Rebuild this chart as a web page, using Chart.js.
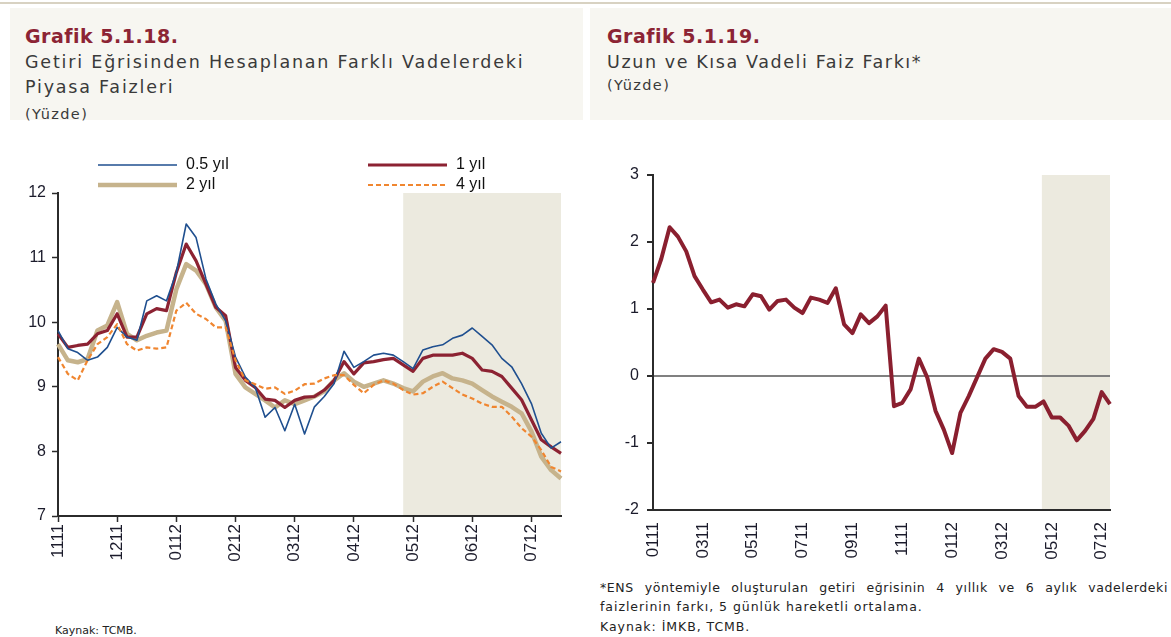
<!DOCTYPE html>
<html lang="tr">
<head>
<meta charset="utf-8">
<title>Grafik 5.1.18 / 5.1.19</title>
<script src="https://cdn.jsdelivr.net/npm/chart.js@4/dist/chart.umd.min.js"></script>
<style>
  html, body { margin: 0; padding: 0; background: #fff; }
  body { width: 1171px; height: 637px; position: relative; overflow: hidden; font-family: "DejaVu Sans", sans-serif; color: #333; }
  .topline { position: absolute; left: 0; top: 2px; width: 1171px; height: 2px; background: #d8d2c2; }
  .head { position: absolute; top: 8px; height: 112px; background: #f7f6f1; }
  .t { position: absolute; white-space: nowrap; }
  .title { font-size: 19px; font-weight: bold; color: #8c2434; line-height: 20px; letter-spacing: 0.5px; }
  .sub { font-size: 17.5px; letter-spacing: 1.8px; line-height: 22px; color: #3a3a3a; }
  .unit { font-size: 14.5px; letter-spacing: 1.4px; line-height: 18px; color: #3a3a3a; }
  .note { font-size: 12.5px; letter-spacing: 0.95px; line-height: 16px; color: #222; }
  canvas { position: absolute; }
</style>
</head>
<body>
<div class="topline"></div>
<div class="head" style="left:10px; width:573px;"></div>
<div class="head" style="left:590px; width:581px;"></div>

<div class="t title" style="left:25px; top:26px;">Grafik 5.1.18.</div>
<div class="t sub" style="left:25px; top:51px;">Getiri Eğrisinden Hesaplanan Farklı Vadelerdeki</div>
<div class="t sub" style="left:25px; top:76px;">Piyasa Faizleri</div>
<div class="t unit" style="left:25px; top:105px;">(Yüzde)</div>

<div class="t title" style="left:607px; top:26px;">Grafik 5.1.19.</div>
<div class="t sub" style="left:607px; top:51px; letter-spacing:1.6px;">Uzun ve Kısa Vadeli Faiz Farkı*</div>
<div class="t unit" style="left:607px; top:76px;">(Yüzde)</div>

<canvas id="chart-left" width="585" height="450" style="left:0; top:130px;"></canvas>
<canvas id="chart-right" width="581" height="450" style="left:590px; top:130px;"></canvas>

<div class="t note" style="left:600px; top:580px; width:568px; text-align:justify; text-align-last:justify; letter-spacing:0.6px;">*ENS yöntemiyle oluşturulan getiri eğrisinin 4 yıllık ve 6 aylık vadelerdeki</div>
<div class="t note" style="left:600px; top:599px;">faizlerinin farkı, 5 günlük hareketli ortalama.</div>
<div class="t note" style="left:600px; top:619px;">Kaynak: İMKB, TCMB.</div>
<div class="t note" style="left:55px; top:623px; font-size:11px; letter-spacing:0;">Kaynak: TCMB.</div>

<script>
'use strict';

// DATA - Grafik 5.1.18 (6 points per month, Nov 2011 - mid Jul 2012)
let leftMonths = ['1111', '1211', '0112', '0212', '0312', '0412', '0512', '0612', '0712'];
let leftPerMonth = 6;
let leftCount = 52;
let leftShadeFrom = 35.0; // forecast period start (index units)

let rate05 = [9.87, 9.59, 9.53, 9.41, 9.46, 9.61, 9.92, 9.77, 9.72, 10.33, 10.41, 10.33, 10.77,
  11.52, 11.31, 10.67, 10.28, 10.02, 9.46, 9.15, 8.99, 8.53, 8.68, 8.32, 8.73, 8.27,
  8.69, 8.85, 9.05, 9.55, 9.30, 9.39, 9.49, 9.52, 9.49, 9.39, 9.28, 9.57, 9.62, 9.65,
  9.75, 9.80, 9.91, 9.78, 9.65, 9.44, 9.31, 9.05, 8.74, 8.28, 8.05, 8.15];
let rate1 = [9.82, 9.61, 9.64, 9.66, 9.82, 9.87, 10.13, 9.77, 9.77, 10.13, 10.21, 10.18, 10.77,
  11.21, 10.95, 10.59, 10.23, 10.10, 9.30, 9.10, 8.99, 8.81, 8.79, 8.68, 8.79, 8.84,
  8.85, 8.95, 9.10, 9.39, 9.20, 9.37, 9.39, 9.42, 9.44, 9.34, 9.24, 9.44, 9.49, 9.49,
  9.49, 9.52, 9.44, 9.26, 9.24, 9.16, 8.98, 8.80, 8.49, 8.18, 8.07, 7.97];
let rate2 = [9.66, 9.41, 9.38, 9.43, 9.87, 9.95, 10.31, 9.82, 9.72, 9.79, 9.84, 9.87, 10.51,
  10.90, 10.80, 10.59, 10.23, 10.02, 9.20, 8.99, 8.89, 8.79, 8.68, 8.79, 8.73, 8.79,
  8.85, 8.93, 9.10, 9.21, 9.08, 9.00, 9.05, 9.10, 9.05, 8.98, 8.93, 9.08, 9.16, 9.21,
  9.13, 9.10, 9.05, 8.95, 8.85, 8.77, 8.69, 8.59, 8.31, 7.92, 7.71, 7.58];
let rate4 = [9.46, 9.20, 9.10, 9.41, 9.66, 9.77, 9.97, 9.66, 9.56, 9.61, 9.59, 9.61, 10.18,
  10.30, 10.13, 10.05, 9.92, 9.92, 9.41, 9.10, 9.04, 8.97, 8.99, 8.89, 8.94, 9.04,
  9.05, 9.13, 9.18, 9.18, 9.03, 8.90, 9.03, 9.10, 9.05, 8.95, 8.88, 8.90, 9.00, 9.08,
  8.98, 8.88, 8.82, 8.74, 8.69, 8.69, 8.54, 8.36, 8.23, 8.02, 7.76, 7.69];

// DATA - Grafik 5.1.19 (3 points per month, Jan 2011 - mid Jul 2012)
let rightTicks = ['0111', '0311', '0511', '0711', '0911', '1111', '0112', '0312', '0512', '0712'];
let rightPerTick = 6;
let rightCount = 56;
let rightShadeFrom = 46.8;

let spread = [1.39, 1.75, 2.22, 2.08, 1.86, 1.49, 1.29, 1.10, 1.14, 1.02, 1.07, 1.04, 1.22, 1.19,
  0.99, 1.12, 1.14, 1.02, 0.94, 1.17, 1.14, 1.09, 1.31, 0.77, 0.64, 0.92, 0.79, 0.89, 1.05,
  -0.45, -0.40, -0.20, 0.26, -0.02, -0.52, -0.80, -1.15, -0.55, -0.30, -0.02, 0.26, 0.40,
  0.36, 0.26, -0.30, -0.46, -0.46, -0.38, -0.62, -0.62, -0.74, -0.96, -0.82, -0.64, -0.24, -0.42];

// HELPERS
function makeLabels(ticks, perTick, count) {
  let out = [];
  for (let i = 0; i < ticks.length; i++) {
    out.push(ticks[i]);
    for (let k = 1; k < perTick; k++) {
      out.push('');
    }
  }
  return out.slice(0, count);
}

let axisFont = { family: 'Liberation Sans', size: 16 };
let xFont = { family: 'Liberation Sans', size: 17 };
let tickText = '#1b1b2b';
let axisColor = '#2b2b2b';

function markColor(ctx) {
  return ctx.tick && ctx.tick.label ? axisColor : 'rgba(0,0,0,0)';
}

// PLUGINS
let shadePlugin = {
  id: 'shade',
  beforeDraw(chart, args, opts) {
    let area = chart.chartArea;
    let x0 = chart.scales.x.getPixelForValue(opts.from);
    let c = chart.ctx;
    c.save();
    c.fillStyle = '#eceadf';
    c.fillRect(x0, area.top, area.right - x0, area.bottom - area.top);
    c.restore();
  }
};

let legendPlugin = {
  id: 'gridLegend',
  afterDraw(chart) {
    let c = chart.ctx;
    let area = chart.chartArea;
    let sets = chart.data.datasets;
    c.save();
    for (let i = 0; i < sets.length; i++) {
      let x = area.left + 40 + (i % 2) * 270;
      let y = area.top - 28 + Math.floor(i / 2) * 20;
      c.strokeStyle = sets[i].borderColor;
      c.lineWidth = sets[i].borderWidth;
      c.setLineDash(sets[i].borderDash || []);
      c.beginPath();
      c.moveTo(x, y);
      c.lineTo(x + 79, y);
      c.stroke();
      c.setLineDash([]);
      c.fillStyle = '#111';
      c.font = '16px "Liberation Sans"';
      c.textBaseline = 'middle';
      c.fillText(sets[i].label, x + 88, y);
    }
    c.restore();
  }
};

// LEFT CHART
function renderLeft() {
  let ctx = document.getElementById('chart-left').getContext('2d');
  new Chart(ctx, {
    type: 'line',
    data: {
      labels: makeLabels(leftMonths, leftPerMonth, leftCount),
      datasets: [
        { label: '0.5 yıl', data: rate05, borderColor: '#1f4f8f', borderWidth: 1.6, order: 1 },
        { label: '1 yıl', data: rate1, borderColor: '#8c2232', borderWidth: 3.2, order: 2 },
        { label: '2 yıl', data: rate2, borderColor: '#c6b38c', borderWidth: 4.5, order: 3 },
        { label: '4 yıl', data: rate4, borderColor: '#f08630', borderWidth: 2.2, borderDash: [5, 3], order: 0 }
      ]
    },
    options: {
      responsive: false,
      animation: false,
      events: [],
      elements: { point: { radius: 0 }, line: { tension: 0, borderJoinStyle: 'round', fill: false } },
      layout: { padding: { top: 63, right: 24, left: 0, bottom: 0 } },
      plugins: { legend: { display: false }, tooltip: { enabled: false }, shade: { from: leftShadeFrom } },
      scales: {
        x: {
          offset: false,
          grid: { drawOnChartArea: false, tickLength: 6, tickColor: markColor, tickWidth: 1.5 },
          border: { color: axisColor, width: 2 },
          ticks: { autoSkip: false, minRotation: 90, maxRotation: 90, font: xFont, color: tickText, padding: 2 },
          afterFit: function (s) { s.height = 64; }
        },
        y: {
          min: 7,
          max: 12,
          grid: { drawOnChartArea: false, tickLength: 6, tickColor: axisColor, tickWidth: 1.5 },
          border: { color: axisColor, width: 2 },
          ticks: { stepSize: 1, font: axisFont, color: tickText, padding: 6 },
          afterFit: function (s) { s.width = 58; }
        }
      }
    },
    plugins: [shadePlugin, legendPlugin]
  });
}

// RIGHT CHART
function renderRight() {
  let ctx = document.getElementById('chart-right').getContext('2d');
  new Chart(ctx, {
    type: 'line',
    data: {
      labels: makeLabels(rightTicks, rightPerTick, rightCount),
      datasets: [
        { label: 'Faiz farkı', data: spread, borderColor: '#8a1f2f', borderWidth: 4 }
      ]
    },
    options: {
      responsive: false,
      animation: false,
      events: [],
      elements: { point: { radius: 0 }, line: { tension: 0, borderJoinStyle: 'round', fill: false } },
      layout: { padding: { top: 45, right: 61, left: 0, bottom: 0 } },
      plugins: { legend: { display: false }, tooltip: { enabled: false }, shade: { from: rightShadeFrom } },
      scales: {
        x: {
          offset: false,
          grid: { display: false },
          border: { color: axisColor, width: 2 },
          ticks: { autoSkip: false, minRotation: 90, maxRotation: 90, font: xFont, color: tickText, padding: 4 },
          afterFit: function (s) { s.height = 70; }
        },
        y: {
          min: -2,
          max: 3,
          grid: {
            drawOnChartArea: true,
            tickLength: 6,
            tickColor: axisColor,
            color: function (c) { return c.tick && c.tick.value === 0 ? '#808080' : 'rgba(0,0,0,0)'; },
            lineWidth: 2
          },
          border: { color: axisColor, width: 2 },
          ticks: { stepSize: 1, font: axisFont, color: tickText, padding: 8 },
          afterFit: function (s) { s.width = 63; }
        }
      }
    },
    plugins: [shadePlugin]
  });
}

renderLeft();
renderRight();
</script>
</body>
</html>
